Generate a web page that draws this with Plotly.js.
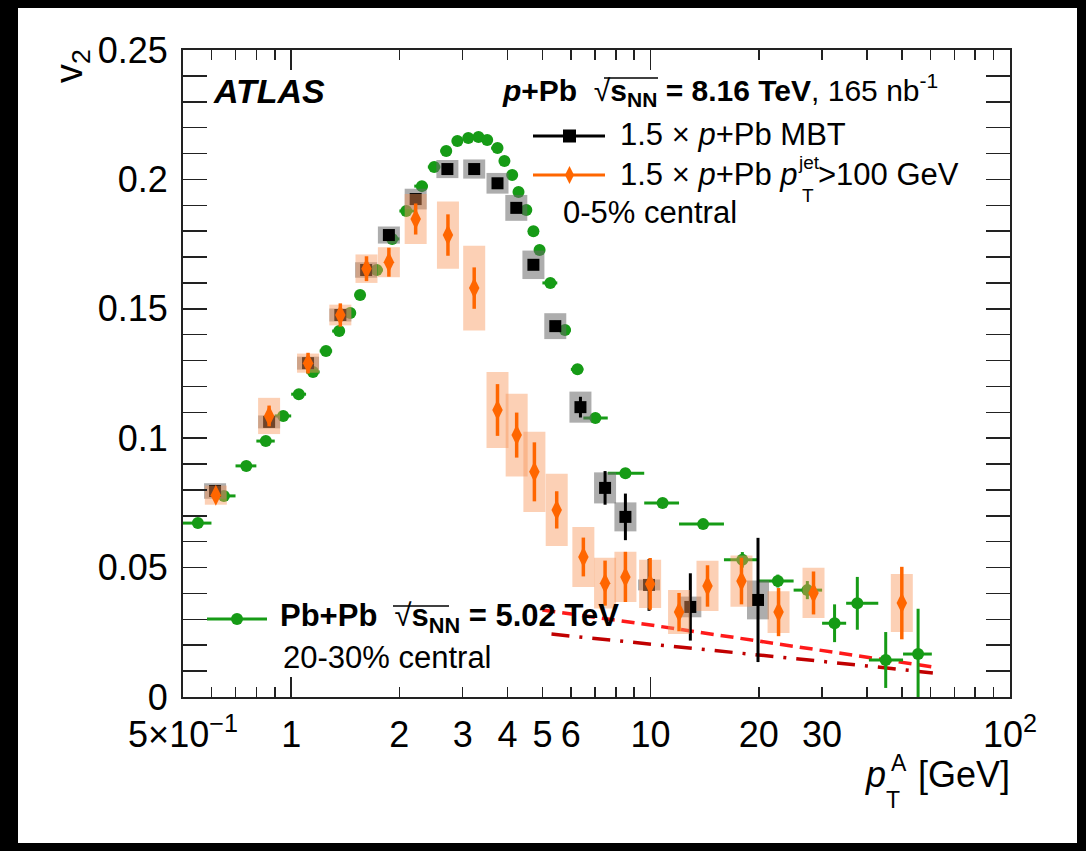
<!DOCTYPE html>
<html><head><meta charset="utf-8">
<script src="https://cdn.plot.ly/plotly-3.0.1.min.js"></script>
<style>
html,body{margin:0;padding:0;background:#000;width:1086px;height:851px;overflow:hidden}
#wrap{position:absolute;left:18px;top:8px;width:1059px;height:835px;background:#fff}
</style></head>
<body><div id="wrap"></div>
<script>
// ---- Pb+Pb 5.02 TeV, 20-30% central ----
const pbX   = [0.55,0.65,0.75,0.85,0.95,1.05,1.15,1.25,1.36,1.46,1.555,1.73,1.91,2.09,2.31,2.50,2.70,2.90,3.11,3.32,3.51,3.75,3.92,4.12,4.29,4.51,4.72,4.91,5.26,5.78,6.26,7.02,8.51,10.8,14.0,18.0,22.6,27.3,32.5,37.6,45.1,55.5];
const pbV2  = [0.0672,0.0777,0.0893,0.0989,0.1086,0.117,0.1256,0.1337,0.1414,0.1484,0.1553,0.165,0.177,0.1878,0.1974,0.2048,0.211,0.2148,0.216,0.2164,0.2152,0.2121,0.2071,0.2017,0.1951,0.1882,0.180,0.1727,0.160,0.1418,0.1266,0.1078,0.0865,0.075,0.0668,0.053,0.0448,0.0413,0.0285,0.0362,0.0143,0.0166];
const pbLo  = [0.5,0.6,0.7,0.8,0.9,1.0,1.1,1.2,1.3,1.4,1.5,1.6,1.8,2.0,2.2,2.4,2.6,2.8,3.0,3.2,3.4,3.6,3.8,4.0,4.2,4.4,4.6,4.8,5.0,5.5,6.0,6.5,7.6,9.6,12,16,20,25,30,35,40.5,50.4];
const pbHi  = [0.6,0.7,0.8,0.9,1.0,1.1,1.2,1.3,1.4,1.5,1.6,1.8,2.0,2.2,2.4,2.6,2.8,3.0,3.2,3.4,3.6,3.8,4.0,4.2,4.4,4.6,4.8,5.0,5.5,6.0,6.5,7.6,9.6,12,16,20,25,30,35,43,50.4,60.6];
const pbErr = [0.0008,0.0008,0.0008,0.0008,0.0008,0.0008,0.0008,0.0008,0.0008,0.0008,0.0008,0.0008,0.0008,0.0008,0.0008,0.0008,0.0008,0.0008,0.0008,0.0008,0.0008,0.0008,0.0008,0.0008,0.0008,0.0008,0.0008,0.0008,0.0008,0.001,0.001,0.001,0.001,0.0012,0.0015,0.003,0.0025,0.0035,0.0073,0.0102,0.0108,0.0175];

// ---- 1.5 x p+Pb MBT ----
const mbtX    = [0.614,0.868,1.114,1.37,1.616,1.87,2.22,2.72,3.23,3.75,4.23,4.72,5.43,6.38,7.47,8.51,9.9,12.9,19.9];
const mbtV2   = [0.0796,0.1063,0.129,0.1476,0.165,0.1785,0.1924,0.204,0.204,0.1985,0.189,0.167,0.1433,0.112,0.0808,0.0696,0.0433,0.0348,0.0375];
const mbtStat = [0.001,0.001,0.001,0.001,0.001,0.001,0.001,0.001,0.001,0.001,0.0012,0.0015,0.002,0.004,0.0065,0.009,0.01,0.013,0.024];
const mbtSys  = [0.003,0.0025,0.0025,0.0025,0.003,0.0033,0.004,0.0035,0.0037,0.004,0.005,0.0055,0.005,0.006,0.006,0.0056,0.0021,0.004,0.0075];

// ---- 1.5 x p+Pb, pT jet > 100 GeV ----
const jetX    = [0.617,0.868,1.114,1.37,1.62,1.87,2.22,2.73,3.23,3.75,4.24,4.75,5.48,6.50,7.47,8.51,9.97,12.0,14.4,17.9,22.7,28.4,50.0];
const jetV2   = [0.078,0.1086,0.129,0.1476,0.1655,0.168,0.1847,0.1785,0.158,0.1109,0.1012,0.087,0.0723,0.0541,0.044,0.0464,0.0437,0.0328,0.0429,0.0448,0.0328,0.0402,0.0363];
const jetStat = [0.002,0.004,0.004,0.0045,0.0048,0.0056,0.006,0.008,0.008,0.01,0.0087,0.0114,0.0072,0.0075,0.0087,0.0097,0.01,0.0074,0.008,0.009,0.0093,0.0083,0.014];
const jetSys  = [0.0037,0.007,0.0037,0.004,0.0055,0.0058,0.0097,0.013,0.0164,0.0147,0.016,0.0155,0.014,0.0116,0.0098,0.0097,0.0093,0.0085,0.0097,0.0099,0.0081,0.0097,0.0112];

// ---- red reference curves ----
const redDashX = [5.0,10,20,40,61];
const redDashY = [0.0336,0.0278,0.0216,0.0155,0.0116];
const redDotX  = [5.3,10,20,40,61];
const redDotY  = [0.0243,0.0205,0.0162,0.012,0.0093];

// ---- tick labels ----
const xTickVals = [0.5,1,2,3,4,5,6,10,20,30,100];
const xTickText = ['5×10<sup>−1</sup>','1','2','3','4','5','6','10','20','30','10<sup>2</sup>'];
const xMinorVals = [0.6,0.7,0.8,0.9,7,8,9,40,50,60,70,80,90];
const xLongVals = [1,10,100];
const yTickVals = [0,0.05,0.1,0.15,0.2,0.25];
const yTickText = ['0','0.05','0.1','0.15','0.2','0.25'];

const FONT = 'Liberation Sans, Arial, Helvetica, sans-serif';
const GREEN = '#169b16', ORANGE = '#ff6600';

// page pixel -> paper coords (plot area: x 183..1010, y 50..697)
const px = x => (x - 183) / 827;
const py = y => (697 - y) / 647;

const traces = [
  {x: redDashX, y: redDashY, mode: 'lines', line: {color: '#ff1a1a', width: 3.5, dash: '13px,7px'}, hoverinfo: 'skip'},
  {x: redDotX, y: redDotY, mode: 'lines', line: {color: '#c00000', width: 3.5, dash: '18px,10px,3px,10px'}, hoverinfo: 'skip'},
  {x: pbX, y: pbV2, mode: 'markers', marker: {symbol: 'circle', size: 12, color: GREEN},
   error_x: {type: 'data', symmetric: false, array: pbX.map((v, i) => pbHi[i] - v), arrayminus: pbX.map((v, i) => v - pbLo[i]), thickness: 3, width: 0, color: GREEN},
   error_y: {type: 'data', array: pbErr, thickness: 3, width: 0, color: GREEN}},
  {x: mbtX, y: mbtV2, mode: 'markers', marker: {size: 2, opacity: 0},
   error_y: {type: 'data', array: mbtSys, thickness: 22, width: 0, color: 'rgba(105,105,105,0.55)'}, hoverinfo: 'skip'},
  {x: mbtX, y: mbtV2, mode: 'markers', marker: {symbol: 'square', size: 12, color: '#000'},
   error_y: {type: 'data', array: mbtStat, thickness: 3, width: 0, color: '#000'}},
  {x: jetX, y: jetV2, mode: 'markers', marker: {size: 2, opacity: 0},
   error_y: {type: 'data', array: jetSys, thickness: 22, width: 0, color: 'rgba(248,150,90,0.45)'}, hoverinfo: 'skip'},
  {x: jetX, y: jetV2, mode: 'markers', marker: {symbol: 'diamond-tall', size: 15, color: ORANGE},
   error_y: {type: 'data', array: jetStat, thickness: 3.5, width: 0, color: ORANGE}},
  {x: [1], y: [null], xaxis: 'x2', yaxis: 'y', mode: 'markers', hoverinfo: 'skip'}
];

function ann(text, x, y, size, extra) {
  return Object.assign({text: text, x: px(x), y: py(y), xref: 'paper', yref: 'paper', showarrow: false,
    xanchor: 'left', yanchor: 'middle', font: {family: FONT, size: size, color: '#000'}}, extra || {});
}
const NB = '\u00a0';
const annotations = [
  ann('<b><i>ATLAS</i></b>', 211, 91, 34),
  ann('<b><i>p</i>+Pb</b>' + NB + NB + '√<b>s<sub>NN</sub></b><b> = 8.16 TeV</b>, 165 nb<sup>-1</sup>', 500, 90, 30),
  ann('1.5 × <i>p</i>+Pb MBT', 618, 134, 31),
  ann('1.5 × <i>p</i>+Pb <i>p</i>', 618, 174, 31),
  ann('jet', 796, 163, 19),
  ann('T', 800, 195, 19),
  ann('>100 GeV', 816, 174, 31),
  ann('0-5% central', 561, 212, 31),
  ann('<b>Pb+Pb</b>' + NB + NB + '√<b>s<sub>NN</sub></b><b> = 5.02 TeV</b>', 278, 618, 31),
  ann('20-30% central', 281, 657, 31),
  ann('v<sub>2</sub>', 72, 66, 38, {xanchor: 'center', textangle: -90}),
  ann('<i>p</i>', 888, 775, 36, {xanchor: 'right'}),
  ann('A', 889, 763, 23),
  ann('T', 884, 800, 23),
  ann('[GeV]', 916, 774, 36)
];

const shapes = [
  // square-root overlines
  {type: 'line', xref: 'paper', yref: 'paper', x0: px(604), x1: px(658), y0: py(78), y1: py(78), line: {color: '#000', width: 1.5}},
  {type: 'line', xref: 'paper', yref: 'paper', x0: px(393), x1: px(449), y0: py(606), y1: py(606), line: {color: '#000', width: 1.5}},
  // legend samples
  {type: 'line', xref: 'paper', yref: 'paper', x0: px(533), x1: px(605), y0: py(136), y1: py(136), line: {color: '#000', width: 3}},
  {type: 'rect', xref: 'paper', yref: 'paper', x0: px(563), x1: px(576), y0: py(129.5), y1: py(142.5), fillcolor: '#000', line: {width: 0}},
  {type: 'line', xref: 'paper', yref: 'paper', x0: px(533), x1: px(605), y0: py(175), y1: py(175), line: {color: ORANGE, width: 3}},
  {type: 'path', xref: 'paper', yref: 'paper',
   path: 'M' + px(569.5) + ',' + py(166) + ' L' + px(574) + ',' + py(175) + ' L' + px(569.5) + ',' + py(184) + ' L' + px(565) + ',' + py(175) + ' Z',
   fillcolor: ORANGE, line: {width: 0}},
  {type: 'line', xref: 'paper', yref: 'paper', x0: px(207), x1: px(267), y0: py(619), y1: py(619), line: {color: GREEN, width: 3}},
  {type: 'circle', xref: 'paper', yref: 'paper', x0: px(231), x1: px(243), y0: py(613), y1: py(625), fillcolor: GREEN, line: {width: 0}}
];

const axisCommon = {showgrid: false, zeroline: false, showline: true, linecolor: '#222', linewidth: 2,
  ticks: 'inside', tickcolor: '#222', tickwidth: 1.5, mirror: 'allticks', tickfont: {family: FONT, size: 36, color: '#000'}};

const layout = {
  width: 1059, height: 835,
  margin: {l: 165, r: 67, t: 42, b: 146, pad: 0},
  paper_bgcolor: '#fff', plot_bgcolor: '#fff',
  showlegend: false,
  font: {family: FONT, color: '#000'},
  xaxis: Object.assign({}, axisCommon, {type: 'log', range: [Math.log10(0.5), 2], tickmode: 'array',
    tickvals: xTickVals, ticktext: xTickText, ticklen: 10, ticklabelstandoff: 5,
    minor: {tickmode: 'array', tickvals: xMinorVals, ticks: 'inside', ticklen: 10, tickcolor: '#222', tickwidth: 1.5}}),
  xaxis2: {type: 'log', range: [Math.log10(0.5), 2], overlaying: 'x', anchor: 'y', side: 'bottom',
    tickmode: 'array', tickvals: xLongVals, ticks: 'inside', ticklen: 20, tickwidth: 1.5, tickcolor: '#222',
    showticklabels: false, showgrid: false, zeroline: false, showline: false, mirror: 'allticks'},
  yaxis: Object.assign({}, axisCommon, {range: [0, 0.25], tickmode: 'array', tickvals: yTickVals, ticktext: yTickText,
    ticklen: 24, ticklabelstandoff: 6,
    minor: {tickmode: 'linear', tick0: 0, dtick: 0.01, ticks: 'inside', ticklen: 12, tickcolor: '#222', tickwidth: 1.5}}),
  annotations: annotations,
  shapes: shapes
};

Plotly.newPlot('wrap', traces, layout, {displayModeBar: false, staticPlot: true});
</script>
</body></html>
